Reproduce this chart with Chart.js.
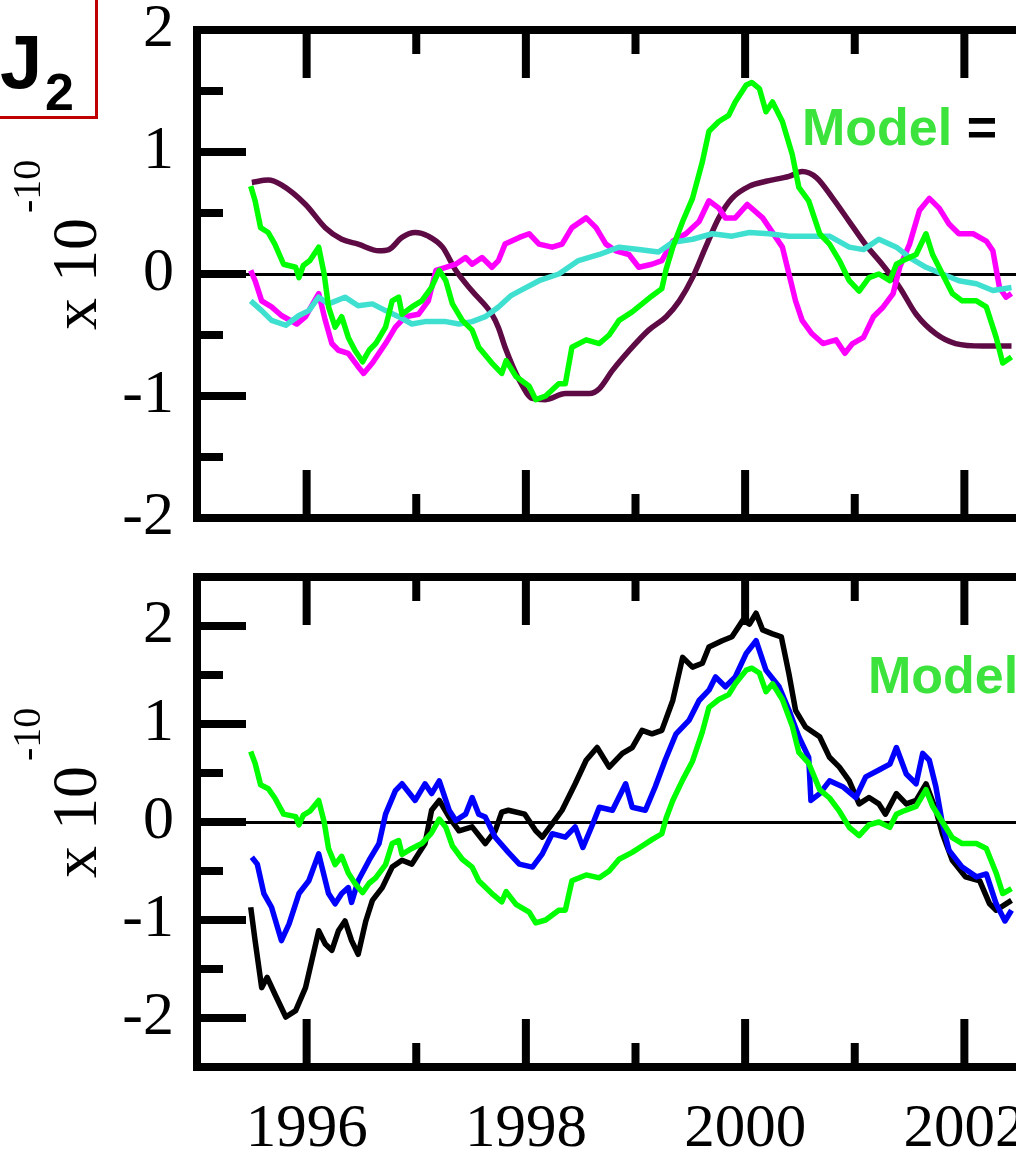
<!DOCTYPE html>
<html>
<head>
<meta charset="utf-8">
<script src="https://cdn.jsdelivr.net/npm/chart.js@4.4.0/dist/chart.umd.min.js"></script>
<style>
  html, body { margin: 0; padding: 0; background: #fff; overflow: hidden; }
  body { width: 1016px; height: 1153px; position: relative; }
  canvas { position: absolute; left: 0; }
  #topChart { top: 0; }
  #bottomChart { top: 560px; }
  .lbl { position: absolute; white-space: nowrap; line-height: 1; }
  .serif { font-family: 'Liberation Serif', 'Times New Roman', serif; color: #000; }
  .sans { font-family: 'Liberation Sans', Arial, sans-serif; font-weight: bold; }
  .rot { transform: rotate(-90deg); transform-origin: 0 0; }
  #j2box { position: absolute; left: -3px; top: -3px; width: 95px; height: 116px; border: 3px solid #c00000; }
  .model { color: #3de33d; }
</style>
</head>
<body>
<canvas id="topChart" width="1090" height="560"></canvas>
<canvas id="bottomChart" width="1090" height="593"></canvas>

<div id="j2box"></div>
<div class="lbl sans" style="left:0px; top:24px; font-size:76px;">J</div>
<div class="lbl sans" style="left:45px; top:66px; font-size:52px;">2</div>

<div class="lbl serif rot" style="left:43px; top:330px; font-size:64px;">x 10</div>
<div class="lbl serif rot" style="left:7px; top:213px; font-size:40px;">-10</div>
<div class="lbl serif rot" style="left:43px; top:878px; font-size:64px;">x 10</div>
<div class="lbl serif rot" style="left:7px; top:761px; font-size:40px;">-10</div>

<div class="lbl sans" style="left:802px; top:101px; font-size:52px;"><span class="model">Model</span> =</div>
<div class="lbl sans model" style="left:868px; top:649px; font-size:52px;">Model</div>

<script>
// [year, value x 1e-10]
const modelSeries = [
  [1995.49, 0.72], [1995.53, 0.60], [1995.58, 0.38], [1995.65, 0.34], [1995.71, 0.245],
  [1995.79, 0.08], [1995.90, 0.055], [1995.93, -0.03], [1995.97, 0.07], [1996.03, 0.11],
  [1996.11, 0.22], [1996.16, 0.0], [1996.20, -0.27], [1996.26, -0.435], [1996.32, -0.35],
  [1996.38, -0.52], [1996.44, -0.625], [1996.51, -0.72], [1996.57, -0.625], [1996.63, -0.57],
  [1996.72, -0.435], [1996.78, -0.22], [1996.84, -0.19], [1996.87, -0.33], [1996.96, -0.27],
  [1997.05, -0.22], [1997.14, -0.11], [1997.21, 0.03], [1997.27, -0.055], [1997.33, -0.245],
  [1997.42, -0.38], [1997.51, -0.46], [1997.57, -0.60], [1997.69, -0.73], [1997.78, -0.815],
  [1997.82, -0.71], [1997.91, -0.84], [1998.03, -0.92], [1998.09, -1.03], [1998.18, -1.0],
  [1998.30, -0.90], [1998.36, -0.90], [1998.42, -0.60], [1998.55, -0.54], [1998.67, -0.57],
  [1998.76, -0.50], [1998.85, -0.38], [1998.97, -0.31], [1999.06, -0.245], [1999.15, -0.18],
  [1999.24, -0.12], [1999.28, 0.04], [1999.34, 0.22], [1999.43, 0.43], [1999.52, 0.62],
  [1999.61, 0.92], [1999.67, 1.17], [1999.76, 1.25], [1999.85, 1.30], [1999.91, 1.41],
  [2000.01, 1.55], [2000.06, 1.57], [2000.13, 1.52], [2000.19, 1.33], [2000.25, 1.41],
  [2000.34, 1.25], [2000.43, 0.98], [2000.49, 0.71], [2000.58, 0.60], [2000.68, 0.33],
  [2000.77, 0.245], [2000.86, 0.11], [2000.95, -0.055], [2001.04, -0.14], [2001.13, -0.03],
  [2001.22, 0.0], [2001.32, -0.055], [2001.38, 0.08], [2001.44, 0.11], [2001.56, 0.16],
  [2001.65, 0.33], [2001.71, 0.16], [2001.80, 0.0], [2001.89, -0.16], [2001.98, -0.22],
  [2002.11, -0.22], [2002.20, -0.27], [2002.29, -0.52], [2002.35, -0.73], [2002.43, -0.68]
];

const magentaSeries = [
  [1995.49, 0.03], [1995.53, -0.055], [1995.59, -0.22], [1995.68, -0.27], [1995.77, -0.34],
  [1995.91, -0.41], [1995.99, -0.35], [1996.11, -0.16], [1996.17, -0.38], [1996.23, -0.57],
  [1996.29, -0.625], [1996.38, -0.65], [1996.47, -0.76], [1996.52, -0.815], [1996.60, -0.73],
  [1996.72, -0.57], [1996.81, -0.435], [1996.90, -0.35], [1997.02, -0.33], [1997.11, -0.22],
  [1997.18, 0.03], [1997.27, 0.055], [1997.36, 0.08], [1997.45, 0.135], [1997.51, 0.08],
  [1997.60, 0.135], [1997.69, 0.055], [1997.75, 0.11], [1997.81, 0.245], [1997.94, 0.30],
  [1998.03, 0.33], [1998.12, 0.245], [1998.24, 0.22], [1998.33, 0.245], [1998.42, 0.38],
  [1998.55, 0.46], [1998.64, 0.38], [1998.73, 0.245], [1998.82, 0.19], [1998.94, 0.16],
  [1999.03, 0.055], [1999.15, 0.08], [1999.24, 0.11], [1999.34, 0.27], [1999.46, 0.33],
  [1999.58, 0.43], [1999.67, 0.60], [1999.76, 0.54], [1999.82, 0.46], [1999.91, 0.46],
  [2000.02, 0.57], [2000.16, 0.46], [2000.28, 0.30], [2000.34, 0.22], [2000.40, 0.0],
  [2000.46, -0.22], [2000.52, -0.38], [2000.61, -0.49], [2000.71, -0.57], [2000.83, -0.54],
  [2000.91, -0.65], [2000.98, -0.57], [2001.08, -0.52], [2001.17, -0.35], [2001.26, -0.27],
  [2001.35, -0.16], [2001.41, 0.055], [2001.50, 0.245], [2001.59, 0.52], [2001.68, 0.62],
  [2001.77, 0.54], [2001.86, 0.41], [2001.95, 0.33], [2002.08, 0.33], [2002.20, 0.27],
  [2002.26, 0.19], [2002.32, -0.11], [2002.38, -0.19], [2002.43, -0.16]
];

const cyanSeries = [
  [1995.49, -0.22], [1995.59, -0.30], [1995.68, -0.38], [1995.81, -0.42], [1995.93, -0.34],
  [1996.02, -0.30], [1996.11, -0.19], [1996.20, -0.245], [1996.35, -0.19], [1996.47, -0.26],
  [1996.60, -0.245], [1996.72, -0.30], [1996.84, -0.35], [1996.96, -0.41], [1997.08, -0.39],
  [1997.27, -0.39], [1997.39, -0.41], [1997.51, -0.39], [1997.63, -0.35], [1997.75, -0.27],
  [1997.86, -0.18], [1997.94, -0.14], [1998.12, -0.055], [1998.30, 0.0], [1998.48, 0.11],
  [1998.67, 0.16], [1998.85, 0.22], [1999.03, 0.20], [1999.21, 0.18], [1999.34, 0.26],
  [1999.52, 0.285], [1999.70, 0.33], [1999.88, 0.31], [2000.04, 0.34], [2000.22, 0.33],
  [2000.40, 0.31], [2000.58, 0.31], [2000.77, 0.31], [2000.95, 0.22], [2001.08, 0.20],
  [2001.22, 0.285], [2001.38, 0.22], [2001.50, 0.135], [2001.65, 0.055], [2001.80, 0.0],
  [2001.95, -0.055], [2002.11, -0.08], [2002.26, -0.135], [2002.43, -0.11]
];

const plumSeries = [
  [1995.50, 0.75], [1995.65, 0.77], [1995.77, 0.73], [1995.99, 0.57], [1996.17, 0.38],
  [1996.32, 0.285], [1996.47, 0.245], [1996.66, 0.19], [1996.75, 0.20], [1996.87, 0.30],
  [1996.99, 0.34], [1997.11, 0.31], [1997.24, 0.22], [1997.36, 0.03], [1997.51, -0.14],
  [1997.69, -0.33], [1997.75, -0.44], [1997.81, -0.60], [1997.94, -0.87], [1998.06, -1.02],
  [1998.18, -1.03], [1998.36, -0.98], [1998.58, -0.98], [1998.67, -0.94], [1998.79, -0.79],
  [1998.94, -0.63], [1999.12, -0.46], [1999.28, -0.35], [1999.40, -0.22], [1999.52, -0.03],
  [1999.64, 0.22], [1999.76, 0.46], [1999.88, 0.62], [2000.04, 0.72], [2000.19, 0.76],
  [2000.40, 0.80], [2000.52, 0.84], [2000.65, 0.79], [2000.80, 0.62], [2000.95, 0.43],
  [2001.10, 0.24], [2001.25, 0.08], [2001.41, -0.11], [2001.56, -0.33], [2001.74, -0.49],
  [2001.92, -0.57], [2002.17, -0.59], [2002.43, -0.59]
];

const blueSeries = [
  [1995.50, -0.36], [1995.55, -0.43], [1995.61, -0.73], [1995.68, -0.87], [1995.77, -1.21],
  [1995.84, -1.04], [1995.93, -0.73], [1996.02, -0.60], [1996.11, -0.325], [1996.20, -0.73],
  [1996.26, -0.835], [1996.32, -0.73], [1996.38, -0.67], [1996.41, -0.82], [1996.47, -0.60],
  [1996.57, -0.39], [1996.66, -0.22], [1996.72, 0.08], [1996.81, 0.32], [1996.87, 0.39],
  [1996.99, 0.22], [1997.08, 0.39], [1997.14, 0.29], [1997.21, 0.42], [1997.30, 0.12],
  [1997.36, 0.015], [1997.45, 0.08], [1997.51, 0.25], [1997.57, 0.08], [1997.63, 0.05],
  [1997.72, -0.155], [1997.84, -0.31], [1997.94, -0.43], [1998.06, -0.46], [1998.15, -0.325],
  [1998.24, -0.12], [1998.36, -0.155], [1998.45, -0.05], [1998.52, -0.26], [1998.61, -0.02],
  [1998.67, 0.15], [1998.79, 0.12], [1998.91, 0.39], [1998.97, 0.15], [1999.09, 0.12],
  [1999.18, 0.36], [1999.27, 0.63], [1999.37, 0.90], [1999.49, 1.04], [1999.58, 1.24],
  [1999.67, 1.345], [1999.73, 1.48], [1999.82, 1.38], [1999.91, 1.48], [2000.01, 1.72],
  [2000.10, 1.85], [2000.19, 1.55], [2000.31, 1.38], [2000.40, 1.14], [2000.49, 0.87],
  [2000.58, 0.66], [2000.60, 0.22], [2000.68, 0.29], [2000.77, 0.42], [2000.89, 0.36],
  [2001.01, 0.25], [2001.10, 0.46], [2001.22, 0.53], [2001.32, 0.59], [2001.38, 0.76],
  [2001.47, 0.49], [2001.56, 0.39], [2001.62, 0.70], [2001.68, 0.63], [2001.74, 0.36],
  [2001.80, -0.02], [2001.86, -0.29], [2001.98, -0.46], [2002.11, -0.56], [2002.20, -0.53],
  [2002.29, -0.835], [2002.37, -1.01], [2002.43, -0.90]
];

const blackSeries = [
  [1995.49, -0.87], [1995.53, -1.21], [1995.59, -1.69], [1995.64, -1.585], [1995.71, -1.755],
  [1995.81, -1.99], [1995.90, -1.925], [1995.99, -1.69], [1996.11, -1.11], [1996.17, -1.245],
  [1996.23, -1.31], [1996.29, -1.11], [1996.35, -1.01], [1996.41, -1.21], [1996.47, -1.35],
  [1996.54, -1.01], [1996.60, -0.80], [1996.69, -0.67], [1996.78, -0.46], [1996.87, -0.39],
  [1996.96, -0.43], [1997.08, -0.22], [1997.14, 0.12], [1997.21, 0.22], [1997.30, 0.05],
  [1997.39, -0.09], [1997.51, -0.05], [1997.63, -0.22], [1997.72, -0.09], [1997.78, 0.10],
  [1997.84, 0.12], [1997.99, 0.08], [1998.09, -0.09], [1998.15, -0.155], [1998.24, -0.02],
  [1998.33, 0.12], [1998.45, 0.39], [1998.55, 0.63], [1998.65, 0.76], [1998.76, 0.56],
  [1998.88, 0.70], [1998.97, 0.76], [1999.06, 0.935], [1999.15, 0.90], [1999.24, 0.935],
  [1999.34, 1.24], [1999.43, 1.68], [1999.52, 1.58], [1999.61, 1.62], [1999.67, 1.785],
  [1999.79, 1.85], [1999.88, 1.89], [1999.98, 2.06], [2000.04, 2.02], [2000.10, 2.13],
  [2000.16, 1.96], [2000.25, 1.92], [2000.33, 1.89], [2000.40, 1.51], [2000.46, 1.14],
  [2000.55, 0.97], [2000.68, 0.87], [2000.77, 0.66], [2000.86, 0.56], [2000.95, 0.42],
  [2001.04, 0.185], [2001.13, 0.25], [2001.22, 0.185], [2001.28, 0.08], [2001.38, 0.29],
  [2001.47, 0.185], [2001.56, 0.22], [2001.65, 0.39], [2001.74, 0.12], [2001.80, -0.12],
  [2001.89, -0.39], [2002.01, -0.56], [2002.14, -0.60], [2002.23, -0.835], [2002.29, -0.90],
  [2002.38, -0.835], [2002.43, -0.80]
];

const xMajor = [1996, 1998, 2000, 2002];
const xMinor = [1997, 1999, 2001];
const yMajor = [-2, -1, 0, 1, 2];
const yMinor = [-1.5, -0.5, 0.5, 1.5];

const serifFont = "'Liberation Serif', 'Times New Roman', serif";

const toPoints = (s) => s.map(([x, y]) => ({ x, y }));

function line(data, color, smooth) {
  return {
    data: toPoints(data),
    borderColor: color,
    borderWidth: 5.5,
    pointRadius: 0,
    borderJoinStyle: 'round',
    tension: smooth ? 0.4 : 0,
    cubicInterpolationMode: smooth ? 'monotone' : 'default',
  };
}

// black frame with inward ticks, drawn through the chart's own scales
const framePlugin = {
  id: 'frame',
  afterDatasetsDraw(chart) {
    const { ctx, chartArea: a, scales } = chart;
    const x = scales.x, y = scales.y;
    ctx.save();
    ctx.strokeStyle = '#000';
    ctx.lineWidth = 8;
    ctx.lineJoin = 'miter';
    ctx.beginPath();
    ctx.moveTo(chart.width, a.top);
    ctx.lineTo(a.left, a.top);
    ctx.lineTo(a.left, a.bottom);
    ctx.lineTo(chart.width, a.bottom);
    ctx.stroke();

    ctx.beginPath();
    const tickY = (vals, len) => vals.forEach((v) => {
      const p = y.getPixelForValue(v);
      ctx.moveTo(a.left, p);
      ctx.lineTo(a.left + len, p);
    });
    const tickX = (vals, len) => vals.forEach((v) => {
      const p = x.getPixelForValue(v);
      ctx.moveTo(p, a.top);
      ctx.lineTo(p, a.top + len);
      ctx.moveTo(p, a.bottom);
      ctx.lineTo(p, a.bottom - len);
    });
    tickY(yMajor, 49);
    tickY(yMinor, 26);
    tickX(xMajor, 48);
    tickX(xMinor, 24);
    ctx.stroke();
    ctx.restore();
  }
};

function makeOptions(yMin, yMax, showX, xHeight, padTop) {
  return {
    responsive: false,
    animation: false,
    events: [],
    layout: { padding: { top: padTop, left: 0, right: 16, bottom: 0 } },
    plugins: { legend: { display: false }, tooltip: { enabled: false } },
    scales: {
      x: {
        type: 'linear',
        min: 1995,
        max: 2003,
        border: { display: false },
        grid: { display: false, drawTicks: false },
        afterBuildTicks: (s) => { s.ticks = xMajor.map((v) => ({ value: v })); },
        afterFit: (s) => { s.height = xHeight; s.paddingLeft = 0; s.paddingRight = 0; },
        ticks: {
          display: showX,
          autoSkip: false,
          maxRotation: 0,
          padding: 26,
          color: '#000',
          font: { family: serifFont, size: 61 },
          callback: (v) => String(v),
        },
      },
      y: {
        min: yMin,
        max: yMax,
        border: { display: false },
        grid: {
          drawTicks: false,
          lineWidth: 3,
          color: (c) => (c.tick && c.tick.value === 0 ? '#000' : 'rgba(0,0,0,0)'),
        },
        afterBuildTicks: (s) => { s.ticks = yMajor.map((v) => ({ value: v })); },
        afterFit: (s) => { s.width = 197; s.paddingTop = 0; s.paddingBottom = 0; },
        ticks: {
          padding: 23,
          color: '#000',
          font: { family: serifFont, size: 62 },
          callback: (v) => String(v),
        },
      },
    },
  };
}

new Chart(document.getElementById('topChart'), {
  type: 'line',
  data: {
    datasets: [
      line(modelSeries, '#00ff00', false),
      line(cyanSeries, '#40e0d0', false),
      line(magentaSeries, '#ff00ff', false),
      line(plumSeries, '#5e0b45', true),
    ],
  },
  options: makeOptions(-2, 2, false, 42, 30),
  plugins: [framePlugin],
});

new Chart(document.getElementById('bottomChart'), {
  type: 'line',
  data: {
    datasets: [
      line(modelSeries, '#00ff00', false),
      line(blueSeries, '#0000ff', false),
      line(blackSeries, '#000000', false),
    ],
  },
  options: makeOptions(-2.5, 2.5, true, 86, 17),
  plugins: [framePlugin],
});
</script>
</body>
</html>
